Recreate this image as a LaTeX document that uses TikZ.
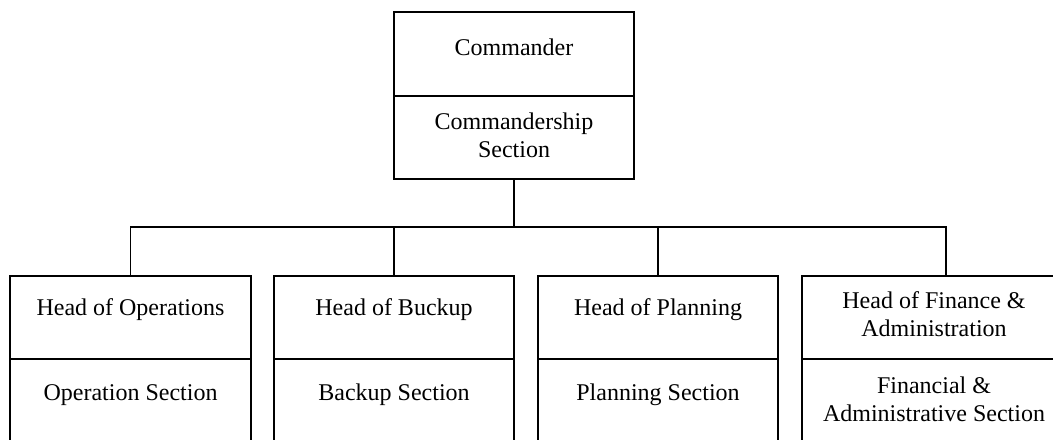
\documentclass[tikz,border=0pt]{standalone}
\usepackage{fontspec}
\setmainfont{Liberation Serif}
\begin{document}
\begin{tikzpicture}[x=0.5pt,y=-0.5pt,
  sect/.style={draw=black, line width=0.9pt, inner sep=0pt, rectangle},
  lbl/.style={align=center, inner sep=0pt, font=\fontsize{12}{14}\selectfont},
  conn/.style={draw=black, line width=0.9pt}]
\useasboundingbox (0,0) rectangle (1053,439);
\clip (0,0) rectangle (1053,439);
% top box
\node[sect, minimum width=120pt, minimum height=42pt] (cmdA) at (514,54) {};
\node[sect, minimum width=120pt, minimum height=41.5pt] (cmdB) at (514,137.5) {};
\node[lbl] (tcmdA) at (514,47) {Commander};
\node[lbl] (tcmdB) at (514,135.5) {Commandership\\Section};
% bottom boxes
\node[sect, minimum width=120.5pt, minimum height=41.5pt] (h1) at (130.5,317.5) {};
\node[sect, minimum width=120.5pt, minimum height=43pt] (s1) at (130.5,402) {};
\node[sect, minimum width=120pt, minimum height=41.5pt] (h2) at (394,317.5) {};
\node[sect, minimum width=120pt, minimum height=43pt] (s2) at (394,402) {};
\node[sect, minimum width=120pt, minimum height=41.5pt] (h3) at (658,317.5) {};
\node[sect, minimum width=120pt, minimum height=43pt] (s3) at (658,402) {};
\node[sect, minimum width=132pt, minimum height=41.5pt] (h4) at (934,317.5) {};
\node[sect, minimum width=132pt, minimum height=43pt] (s4) at (934,402) {};
% labels
\node[lbl] (th1) at (130.5,310) {Head of Operations};
\node[lbl] (ts1) at (130.5,395) {Operation Section};
\node[lbl] (th2) at (394,310) {Head of Buckup};
\node[lbl] (ts2) at (394,395) {Backup Section};
\node[lbl] (th3) at (658,310) {Head of Planning};
\node[lbl] (ts3) at (658,395) {Planning Section};
\node[lbl] (th4) at (934,314) {Head of Finance \&\\Administration};
\node[lbl] (ts4) at (934,399) {Financial \&\\Administrative Section};
% connectors
\coordinate (j) at (514,227);
\coordinate (d4) at (946,276);
\draw[conn] (cmdB.south) -- (j);
\draw[conn] (j) -| (h1.north);
\draw[conn] (j) -| (h2.north);
\draw[conn] (j) -| (h3.north);
\draw[conn] (j) -| (d4);
\end{tikzpicture}
\end{document}
